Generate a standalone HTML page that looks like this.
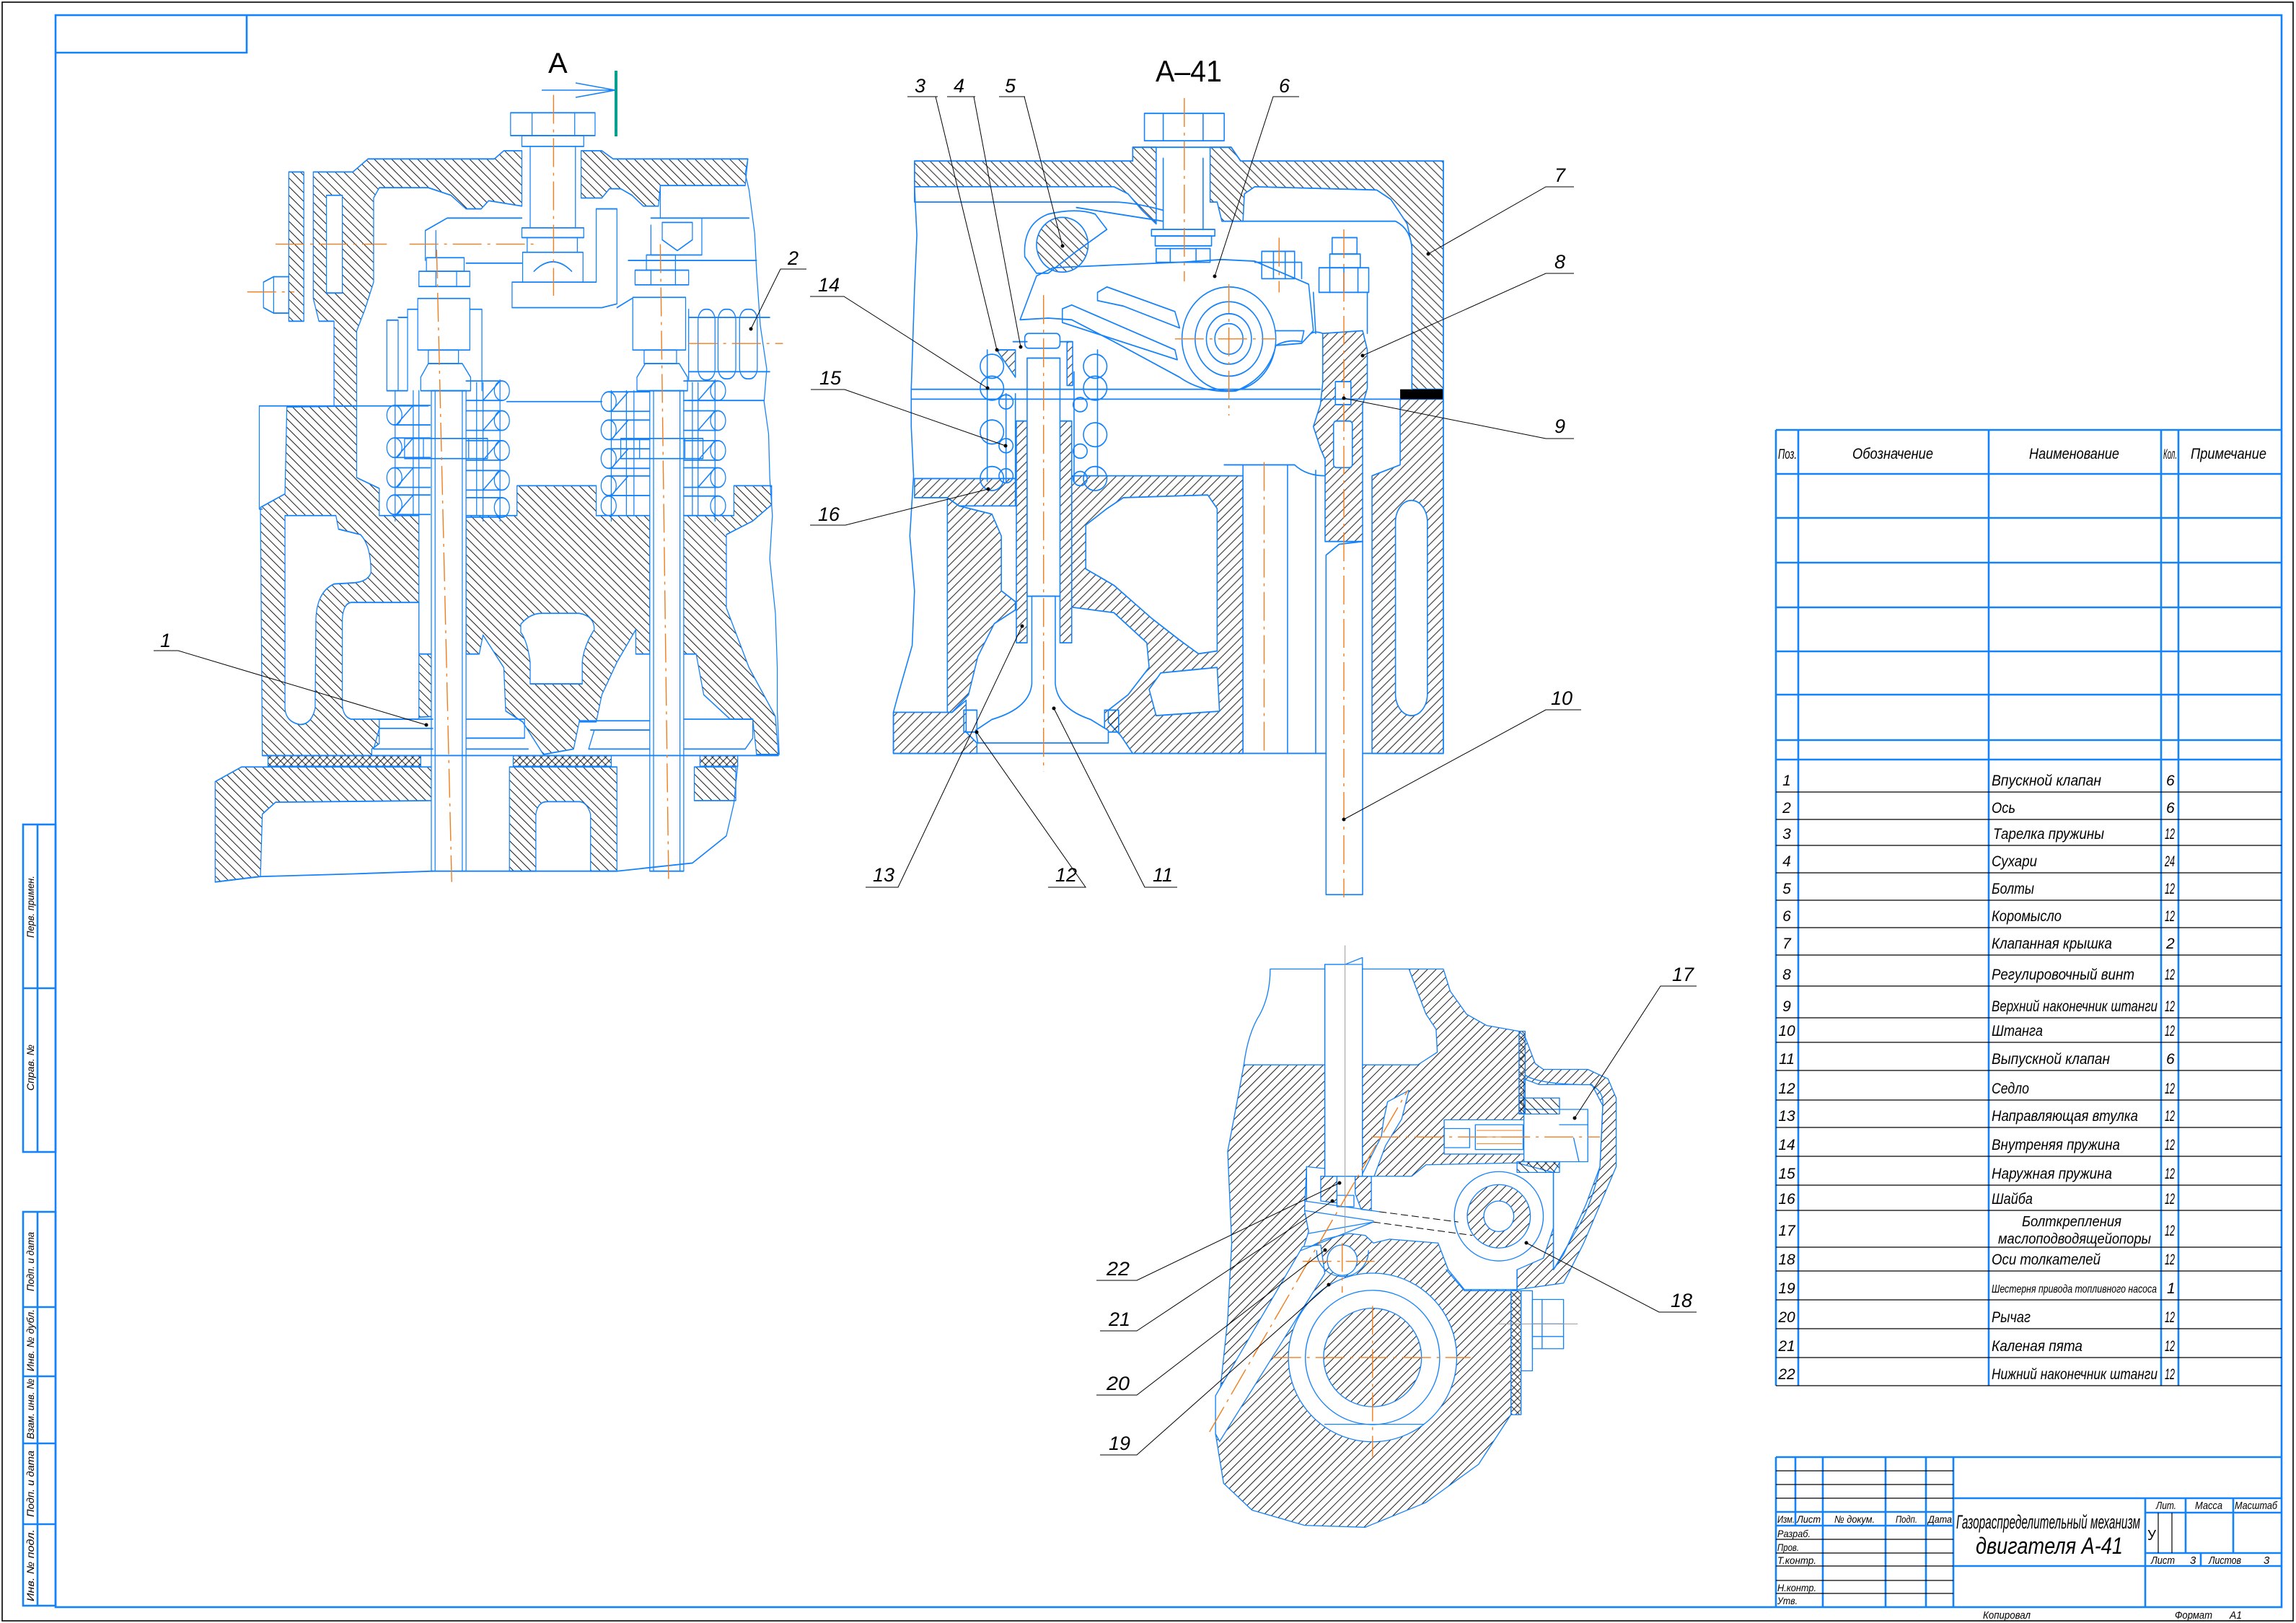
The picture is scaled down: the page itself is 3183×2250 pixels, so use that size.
<!DOCTYPE html>
<html><head><meta charset="utf-8"><style>
html,body{margin:0;padding:0;background:#fff;}
svg{display:block;}
text{font-family:"Liberation Sans","DejaVu Sans",sans-serif;}
.b{stroke:#1482fa;stroke-width:2.4;vector-effect:non-scaling-stroke;stroke-linejoin:round;stroke-linecap:round}
.bt{stroke:#1482fa;stroke-width:2.6;fill:none}
.k{stroke:#000;stroke-width:1;fill:none;vector-effect:non-scaling-stroke}
.o{stroke:#f07d1e;stroke-width:1.4;fill:none;stroke-dasharray:40 8 4 8;vector-effect:non-scaling-stroke}
.i{font-style:italic;fill:#000}
</style></head><body>
<svg width="3183" height="2250" viewBox="0 0 3183 2250" xmlns="http://www.w3.org/2000/svg">
<defs>
<pattern id="h1" patternUnits="userSpaceOnUse" width="8.5" height="8.5" patternTransform="scale(1.912,1.3288) rotate(-45)"><path d="M4.25,-1V10" stroke="#1a1a1a" stroke-width="1"/></pattern>
<pattern id="x1" patternUnits="userSpaceOnUse" width="7" height="7" patternTransform="scale(1.912,1.3288) rotate(45)"><path d="M3.5,-1V8M-1,3.5H8" stroke="#1a1a1a" stroke-width="1"/></pattern>
<pattern id="h2b" patternUnits="userSpaceOnUse" width="8.5" height="8.5" patternTransform="scale(1.5373,1.3175) rotate(-45)"><path d="M4.25,-1V10" stroke="#1a1a1a" stroke-width="1"/></pattern>
<pattern id="h2f" patternUnits="userSpaceOnUse" width="8.5" height="8.5" patternTransform="scale(1.5373,1.3175) rotate(45)"><path d="M4.25,-1V10" stroke="#1a1a1a" stroke-width="1"/></pattern>
<pattern id="h3" patternUnits="userSpaceOnUse" width="8.5" height="8.5" patternTransform="scale(1.7825,1.8904) rotate(45)"><path d="M4.25,-1V10" stroke="#1a1a1a" stroke-width="1"/></pattern>
<pattern id="h3b" patternUnits="userSpaceOnUse" width="8.5" height="8.5" patternTransform="scale(1.7825,1.8904) rotate(-45)"><path d="M4.25,-1V10" stroke="#1a1a1a" stroke-width="1"/></pattern>
<pattern id="x3" patternUnits="userSpaceOnUse" width="7" height="7" patternTransform="scale(1.7825,1.8904) rotate(45)"><path d="M3.5,-1V8M-1,3.5H8" stroke="#1a1a1a" stroke-width="1"/></pattern>
</defs>
<rect x="0" y="0" width="3183" height="2250" fill="#fff"/>

<!-- outer borders -->
<rect x="3" y="3" width="3176" height="2244" fill="none" stroke="#000" stroke-width="1.6"/>
<rect x="77" y="21" width="3086" height="2207" class="bt"/>
<path class="bt" d="M77,73H342V21"/>

<!-- left strips -->
<g class="bt">
<rect x="32" y="1143" width="45" height="454"/><path d="M52,1143V1597M32,1370H77"/>
<rect x="32" y="1680" width="45" height="546"/><path d="M52,1680V2226M32,1812H77M32,1908H77M32,2001H77M32,2113H77"/>
</g>
<g class="i" font-size="14" text-anchor="middle">
<text transform="translate(47,1257) rotate(-90)" textLength="86" lengthAdjust="spacingAndGlyphs">Перв. примен.</text>
<text transform="translate(47,1480) rotate(-90)" textLength="64" lengthAdjust="spacingAndGlyphs">Справ. №</text>
<text transform="translate(47,1749) rotate(-90)" textLength="82" lengthAdjust="spacingAndGlyphs">Подп. и дата</text>
<text transform="translate(47,1858) rotate(-90)" textLength="86" lengthAdjust="spacingAndGlyphs">Инв. № дубл.</text>
<text transform="translate(47,1953) rotate(-90)" textLength="84" lengthAdjust="spacingAndGlyphs">Взам. инв. №</text>
<text transform="translate(47,2057) rotate(-90)" textLength="92" lengthAdjust="spacingAndGlyphs">Подп. и дата</text>
<text transform="translate(47,2170) rotate(-90)" textLength="100" lengthAdjust="spacingAndGlyphs">Инв. № подл.</text>
</g>

<!-- ================= DRAWING 1 ================= -->
<g transform="translate(280,60) scale(0.523,0.7526)">
 <g class="b" fill="url(#h1)">
  <rect x="230" y="237" width="40" height="275"/>
  <polygon points="295,237 400,237 440,213 775,213 800,198 848,198 848,300 760,290 740,305 700,305 660,280 600,266 470,266 455,285 455,440 432,490 410,530 410,668 350,668 350,512 310,512 295,470"/>
  <polygon points="1005,198 1060,198 1090,213 1447,213 1440,262 1215,262 1210,300 1170,300 1140,280 1110,268 1080,268 1060,285 1005,285"/>
  <polygon points="155,855 220,830 225,670 410,668 410,800 470,820 470,870 575,870 575,1125 612,1125 612,1240 470,1245 470,1290 450,1300 450,1312 160,1312"/>
  <polygon points="700,870 835,870 835,815 1045,815 1045,870 1187,870 1187,1125 1150,1125 1150,1080 1100,1140 1060,1200 1045,1250 1000,1250 985,1300 905,1310 850,1250 805,1230 800,1150 745,1090 735,1125 700,1125"/>
  <polygon points="1270,870 1410,870 1410,815 1510,815 1510,850 1460,880 1390,905 1390,1040 1450,1150 1520,1240 1528,1310 1470,1310 1460,1245 1400,1245 1330,1200 1310,1125 1270,1125"/>
  <polygon points="35,1360 105,1333 612,1333 612,1395 195,1398 160,1420 155,1535 35,1545"/>
  <path d="M815,1333H1100V1525H1030V1420Q1020,1397 1000,1397H915Q890,1397 885,1420V1525H815Z"/>
  <rect x="1305" y="1333" width="110" height="62"/>
 </g>
 <g class="b" fill="url(#x1)">
  <rect x="175" y="1312" width="405" height="20"/>
  <rect x="825" y="1312" width="260" height="20"/>
  <rect x="1320" y="1312" width="100" height="20"/>
 </g>
 <g class="b" fill="#fff">
  <path d="M220,870H355L362,895L420,905Q448,925 448,975Q440,992 400,994L350,996Q305,1010 302,1060L300,1225Q290,1255 260,1255Q222,1250 220,1225Z"/>
  <path d="M395,1030H575V1245H395Q372,1240 372,1215V1060Q375,1032 395,1030Z"/>
  <path d="M845,1070Q870,1050 900,1050H1000Q1040,1055 1040,1080Q1012,1110 1008,1140V1180H870V1140Q862,1100 845,1085Z"/>
  <rect x="330" y="280" width="42" height="180"/>
  <rect x="608" y="640" width="92" height="885"/>
  <rect x="1187" y="640" width="90" height="885"/>
 </g>
 <g class="b" fill="none">
  <rect x="818" y="128" width="224" height="42"/><path d="M875,128V170M988,128V170"/>
  <rect x="848" y="170" width="164" height="20"/>
  <path d="M870,190V340M990,190V340"/>
  <path d="M848,340H1012V358H848Z M862,358H995V385H862Z M850,385H1010V440H850Z M880,420Q930,385 980,420"/>
  <path d="M822,487V440H850 M1010,440H1045V305H1100V480L1060,487H822"/>
  <path d="M592,400V345L650,322H848 M620,345V395 M700,405H848"/>
  <polyline points="1447,213 1440,240 1450,270 1465,350 1470,420 1480,520 1497,600 1490,660 1502,720 1505,800 1512,870 1505,950 1520,1050 1525,1150 1525,1230 1530,1310"/>
  <path d="M152,668H600 M808,660H1060 M1290,658H1490 M152,668V858H160"/>
  <polyline points="35,1545 150,1535 400,1530 612,1525"/>
  <polyline points="700,1525 1100,1525 1300,1510 1390,1460 1410,1400 1420,1330"/>
  <path d="M160,1312H1528"/>
  <path d="M618,640V1525M690,640V1525M1197,640V1525M1267,640V1525"/>
  <path d="M465,1245H612 M470,1262H612 M455,1300H612 M455,1300L470,1262 M700,1245H855V1280H700 M700,1300H865"/>
  <path d="M1000,1248H1187 M1030,1265H1187 M1025,1300H1187 M1025,1300L1040,1265 M1277,1245H1460V1280L1440,1300H1277"/>
  <rect x="572" y="470" width="138" height="95"/>
  <rect x="575" y="420" width="135" height="28"/><path d="M620,420V448M675,420V448"/>
  <rect x="595" y="395" width="100" height="25"/>
  <rect x="600" y="565" width="80" height="25"/>
  <path d="M580,640V615L600,590H690L712,615V640H580"/>
  <rect x="1142" y="468" width="140" height="97"/>
  <rect x="1148" y="418" width="142" height="27"/><path d="M1190,418V445M1255,418V445"/>
  <rect x="1178" y="390" width="77" height="28"/>
  <rect x="1172" y="565" width="86" height="25"/>
  <path d="M1153,640V615L1175,590H1265L1287,615V640H1153"/>
  <rect x="537" y="728" width="220" height="37"/><path d="M587,728V765M707,728V765"/>
  <rect x="1110" y="728" width="218" height="37"/><path d="M1160,728V765M1280,728V765"/>
  <path d="M490,510H520V640H490Z M520,505H545V640H520 M545,490H572 M710,490H742V640 M545,490V640"/>
  <path d="M1215,262V322 M1190,322H1450 M1190,335V390H1325V322 M1130,400H1470 M1100,487L1140,470"/>
  <polygon points="1220,330 1300,330 1300,362 1260,382 1220,362"/>
  <rect x="1315" y="490" width="45" height="130" rx="20"/>
  <rect x="1368" y="490" width="47" height="128" rx="20"/>
  <rect x="1425" y="490" width="47" height="128" rx="20"/>
  <path d="M1290,505H1505 M1290,605H1505 M1290,490V620"/>
  <polygon points="163,440 190,430 230,430 230,497 190,497 163,487"/><path d="M190,430V497"/>
  <!-- springs -->
  <ellipse cx="510" cy="685" rx="20" ry="18"/><ellipse cx="510" cy="745" rx="20" ry="18"/><ellipse cx="510" cy="800" rx="20" ry="18"/><ellipse cx="510" cy="850" rx="20" ry="18"/>
  <path d="M510,667H605M510,703H605M510,727H605M510,763H605M510,782H605M510,818H605M510,832H605M510,868H605 M515,703L560,667M515,763L560,727M515,818L560,782M515,868L560,832 M512,640V880M560,640V870M575,640V870"/>
  <ellipse cx="795" cy="640" rx="20" ry="18"/><ellipse cx="795" cy="695" rx="20" ry="18"/><ellipse cx="795" cy="750" rx="20" ry="18"/><ellipse cx="795" cy="805" rx="20" ry="18"/><ellipse cx="795" cy="855" rx="20" ry="18"/>
  <path d="M700,622H795M700,658H795M700,677H795M700,713H795M700,732H795M700,768H795M700,787H795M700,823H795M700,837H795M700,873H795 M745,658L790,622M745,713L790,677M745,768L790,732M745,823L790,787 M728,625V870M745,625V880M790,620V880"/>
  <ellipse cx="1078" cy="660" rx="20" ry="18"/><ellipse cx="1078" cy="712" rx="20" ry="18"/><ellipse cx="1078" cy="765" rx="20" ry="18"/><ellipse cx="1078" cy="815" rx="20" ry="18"/><ellipse cx="1078" cy="852" rx="20" ry="18"/>
  <path d="M1078,642H1187M1078,678H1187M1078,694H1187M1078,730H1187M1078,747H1187M1078,783H1187M1078,797H1187M1078,833H1187 M1085,678L1130,642M1085,730L1130,694M1085,783L1130,747M1085,833L1130,797 M1085,640V880M1125,640V870M1145,640V870"/>
  <ellipse cx="1368" cy="640" rx="20" ry="18"/><ellipse cx="1368" cy="695" rx="20" ry="18"/><ellipse cx="1368" cy="750" rx="20" ry="18"/><ellipse cx="1368" cy="800" rx="20" ry="18"/><ellipse cx="1368" cy="852" rx="20" ry="18"/>
  <path d="M1277,622H1368M1277,658H1368M1277,677H1368M1277,713H1368M1277,732H1368M1277,768H1368M1277,782H1368M1277,818H1368M1277,834H1368M1277,870H1368 M1315,658L1360,622M1315,713L1360,677M1315,768L1360,732M1315,818L1360,782 M1300,625V870M1315,625V870M1360,620V880"/>
 </g>
 <path class="o" d="M622,380L662,1545 M1215,370L1237,1545 M932,95V465 M120,458H245 M195,370H490 M550,370H880 M1290,553H1540"/>
</g>

<!-- Section marker A -->
<text x="760" y="101" font-size="40" fill="#000">A</text>
<path d="M751,125H853 M798,115L853,125L798,135" stroke="#1482fa" stroke-width="1.6" fill="none"/>
<path d="M854,98V189" stroke="#00a08e" stroke-width="4"/>

<!-- ================= DRAWING 2 ================= -->
<g transform="translate(1180,60) scale(0.6505,0.759)">
 <g class="b" fill="url(#h2b)">
  <polygon points="135,215 600,215 600,190 650,190 650,330 620,305 590,275 560,262 135,262"/>
  <polygon points="765,190 810,190 830,215 1262,215 1262,632 1195,632 1195,370 1185,330 1150,285 1120,268 860,262 838,275 835,325 790,325 780,290 765,290"/>
  <ellipse cx="450" cy="368" rx="55" ry="50"/>
 </g>
 <g class="b" fill="url(#h2f)">
  <polygon points="135,795 350,795 350,845 230,845 205,830 135,830"/>
  <polygon points="205,830 230,845 300,860 320,900 320,1000 350,1020 350,1035 305,1060 270,1120 250,1190 215,1222 205,1222"/>
  <polygon points="90,1222 215,1222 245,1200 245,1258 268,1278 268,1297 90,1297"/>
  <rect x="352" y="690" width="23" height="405"/>
  <rect x="445" y="690" width="25" height="405"/>
  <polygon points="470,790 835,790 835,1297 600,1297 575,1265 548,1240 548,1218 590,1190 635,1140 630,1095 560,1040 470,1030"/>
  <polygon points="1110,790 1170,770 1170,650 1262,650 1262,1297 1110,1297"/>
  <polygon points="1005,530 1090,525 1100,560 1100,630 1090,660 1090,910 1010,910 1010,760 1000,740 985,700 1000,660 1005,620"/>
  <rect x="540" y="1218" width="30" height="40"/>
  <polygon points="310,560 350,560 350,610"/>
  <rect x="460" y="545" width="12" height="80"/>
 </g>
 <g class="b" fill="#fff">
  <polygon points="500,880 545,850 580,830 760,825 780,850 780,1110 740,1115 700,1090 640,1050 560,990 500,960"/>
  <polygon points="635,1180 660,1150 780,1140 785,1220 650,1228"/>
  <rect x="1160" y="835" width="68" height="393" rx="34" ry="40"/>
  <rect x="1032" y="618" width="33" height="42"/>
  <rect x="1028" y="690" width="40" height="85" rx="6"/>
  <rect x="375" y="575" width="70" height="435"/>
  <path d="M385,1010V1170Q380,1215 300,1235L265,1255L270,1278H548V1255L510,1235Q440,1215 435,1170V1010Z"/>
  <path d="M1012,935L1040,915L1090,910V1555H1012Z"/>
  <rect x="370" y="530" width="75" height="27" rx="8"/>
 </g>
 <rect x="1170" y="632" width="92" height="18" fill="#000"/>
 <g class="b" fill="none">
  <rect x="625" y="128" width="170" height="50"/><path d="M665,128V178M750,128V178"/>
  <path d="M600,190H810 M600,190V215 M810,190L830,215 M665,210V340 M750,210V340"/>
  <rect x="640" y="340" width="135" height="12"/><rect x="648" y="352" width="120" height="18"/>
  <rect x="650" y="375" width="115" height="25"/><path d="M680,375V400M735,375V400"/>
  <path d="M135,215V290 M135,290H560Q600,290 665,305 M480,300L665,325"/>
  <path d="M835,325H1160Q1195,340 1195,380V632"/>
  <path d="M128,632H1000 M128,650H1170"/>
  <polyline points="135,262 140,350 135,450 128,632 128,700 133,790 125,900 135,1000 130,1100 100,1190 90,1222 90,1297"/>
  <path d="M90,1297H1012 M1090,1297H1262 M1262,215V1297"/>
  <path d="M835,770V1297 M930,770V1297 M990,780V1297 M795,770H945Q970,790 1010,790"/>
  <path d="M360,505L395,425L430,410L560,405L700,400L790,395L860,398L975,440L985,525L960,548L905,552Q890,610 820,635Q750,640 700,610L560,545L470,505L420,502Z"/>
  <path d="M525,455L545,445L690,490L700,520L580,480L525,470Z"/>
  <path d="M450,485L470,478L690,560L695,578L450,510Z"/>
  <ellipse cx="805" cy="540" rx="100" ry="95"/>
  <ellipse cx="805" cy="540" rx="72" ry="68"/>
  <ellipse cx="805" cy="540" rx="48" ry="46"/>
  <ellipse cx="805" cy="540" rx="30" ry="28"/>
  <path d="M905,525H965L960,545Q930,540 905,552"/>
  <path d="M370,390Q365,330 420,312Q480,300 520,312L545,340L480,380L420,420L395,420Z"/>
  <rect x="997" y="410" width="106" height="45"/><path d="M1020,410V455M1050,410V455M1080,410V455"/>
  <rect x="1020" y="385" width="65" height="25"/><rect x="1025" y="355" width="53" height="30"/>
  <path d="M985,455L990,530 M1100,455V530 M980,530Q990,525 1005,530"/>
  <rect x="875" y="380" width="70" height="50"/><path d="M900,380V430M925,380V430M860,400H960V430"/>
  <ellipse cx="300" cy="590" rx="25" ry="22"/><ellipse cx="300" cy="630" rx="25" ry="22"/><ellipse cx="300" cy="710" rx="25" ry="22"/><ellipse cx="300" cy="795" rx="25" ry="22"/>
  <ellipse cx="520" cy="590" rx="25" ry="22"/><ellipse cx="520" cy="630" rx="25" ry="22"/><ellipse cx="520" cy="715" rx="25" ry="22"/><ellipse cx="520" cy="795" rx="25" ry="22"/>
  <ellipse cx="330" cy="655" rx="15" ry="13"/><ellipse cx="330" cy="735" rx="15" ry="13"/><ellipse cx="330" cy="790" rx="15" ry="13"/>
  <ellipse cx="488" cy="660" rx="15" ry="13"/><ellipse cx="488" cy="745" rx="15" ry="13"/><ellipse cx="488" cy="795" rx="15" ry="13"/>
  <path d="M290,560V800M330,640V800M350,640V800M475,600V800M525,560V790M345,545H375M445,545H470"/>
  <path d="M240,1218H268V1258H240Z"/>
 </g>
 <path class="o" d="M710,100V435 M410,460V1330 M690,540H905 M805,440V680 M880,765V1300 M1050,340V1560 M912,355V455"/>
</g>
<text x="1602" y="113" font-size="42" fill="#000" textLength="92" lengthAdjust="spacingAndGlyphs">А–41</text>

<!-- ================= DRAWING 3 ================= -->
<g transform="translate(1500,1300) scale(0.561,0.529)">
 <g class="b" fill="url(#h3)">
  <polygon points="400,333 600,333 600,625 693,625 693,333 830,333 878,300 875,240 850,200 808,82 893,82 910,140 950,200 1000,230 1080,245 1095,260 1120,330 1140,345 1250,345 1300,370 1320,420 1320,600 1280,700 1240,800 1190,905 1090,920 1060,925 1060,1250 980,1380 850,1480 700,1545 550,1540 420,1500 350,1430 330,1300 360,1000 370,800 360,560 385,420"/>
 </g>
 <g class="b" fill="#fff">
  <polygon points="555,600 600,605 600,625 815,625 850,595 1075,590 1165,615 1165,760 1140,840 1075,870 1075,922 945,922 905,870 880,800 760,790 720,800 700,780 660,775 600,790 545,820 560,770 550,715"/>
  <polygon points="1092,370 1130,385 1260,385 1287,440 1280,600 1245,700 1190,830 1165,870 1165,615 1180,590 1180,450 1092,450"/>
  <polygon points="755,430 808,400 790,475 750,545 722,625 690,625 740,520 745,480"/>
  <polygon points="545,810 590,805 600,880 340,1320 330,1300 330,1200"/>
  <ellipse cx="718" cy="1100" rx="208" ry="221"/>
  <rect x="600" y="70" width="93" height="555"/>
  <rect x="895" y="477" width="197" height="90"/>
  <rect x="1092" y="450" width="158" height="137"/>
 </g>
 <g class="b" fill="url(#h3)">
  <ellipse cx="718" cy="1100" rx="121" ry="129"/>
  <ellipse cx="1030" cy="730" rx="78" ry="83"/>
  <polygon points="590,625 630,625 630,695 590,690"/>
  <polygon points="675,625 715,625 715,715 690,712 675,670"/>
 </g>
 <g class="b" fill="url(#h3b)">
  <rect x="1080" y="420" width="100" height="42"/>
  <rect x="1075" y="587" width="105" height="28"/>
 </g>
 <g class="b" fill="url(#x3)">
  <rect x="1060" y="925" width="25" height="325"/>
  <rect x="1080" y="245" width="15" height="215"/>
 </g>
 <g class="b" fill="#fff">
  <ellipse cx="1030" cy="730" rx="37" ry="40"/>
  <ellipse cx="643" cy="845" rx="37" ry="40"/>
  <rect x="630" y="675" width="42" height="30"/>
 </g>
 <g class="b" fill="none">
  <path d="M600,625V70H650L693,52V625"/>
  <path d="M465,82H600 M693,82H808 M465,82Q465,150 440,200Q410,250 400,333 M400,333H600 M693,333H830"/>
  <ellipse cx="718" cy="1100" rx="166" ry="176"/>
  <path d="M600,1275H845"/>
  <ellipse cx="1030" cy="730" rx="110" ry="117"/>
  <path d="M580,820A64,68 0 1,0 708,820"/>
  <path d="M1095,360Q1130,385 1255,385Q1290,400 1287,440L1280,600Q1260,700 1220,770L1165,870 M1165,615V870 M1075,870V922 M945,925H1060 M900,870L945,925"/>
  <path d="M550,690L735,718 M550,715L720,742 M560,775L720,745 M540,820L720,745 M555,600V690"/>
  <rect x="972" y="490" width="118" height="65"/><rect x="895" y="500" width="63" height="50"/>
  <path d="M1180,490H1250 M1215,525L1228,587"/>
  <rect x="1113" y="948" width="77" height="129"/><path d="M1137,948V1077M1113,1012H1190M1113,1045H1190"/>
  <rect x="1085" y="925" width="28" height="210"/>
 </g>
 <path class="k" d="M735,718L930,745 M720,745L965,780" stroke-dasharray="10 5"/>
 <path d="M650,20V780" stroke="#999" stroke-width="1" vector-effect="non-scaling-stroke"/>
 <path d="M975,505H1088M975,522H1088M975,540H1088" stroke="#f07d1e" stroke-width="1" vector-effect="non-scaling-stroke"/>
 <path class="o" d="M470,1100H960 M718,965V1360 M545,848H730 M643,800V930 M315,1295L805,400 M715,522H1280"/>
 <path d="M1030,1012H1225" stroke="#999" stroke-width="1" vector-effect="non-scaling-stroke"/>
</g>

<!-- leaders & labels -->
<g class="k" stroke-width="1.1">
 <path d="M213,902H247L591,1005"/>
 <path d="M1118,373H1082L1041,456"/>
 <path d="M1258,134H1300M1297,134L1382,485"/>
 <path d="M1313,134H1352M1350,134L1415,481"/>
 <path d="M1385,134H1421M1420,134L1473,341"/>
 <path d="M1801,134H1765L1684,383"/>
 <path d="M2182,259H2143L1980,352"/>
 <path d="M2182,379H2143L1889,493"/>
 <path d="M2182,608H2143L1863,552"/>
 <path d="M2192,984H2143L1863,1136"/>
 <path d="M1632,1230H1587L1461,982"/>
 <path d="M1453,1230H1505L1354,1015"/>
 <path d="M1200,1230H1245L1417,868"/>
 <path d="M1123,411H1170L1369,538"/>
 <path d="M1124,540H1171L1394,618"/>
 <path d="M1123,728H1172L1370,678"/>
 <path d="M2352,1367H2302L2183,1550"/>
 <path d="M2352,1819H2300L2116,1723"/>
 <path d="M1520,1775H1576L1857,1640"/>
 <path d="M1525,1845H1576L1847,1665"/>
 <path d="M1520,1934H1576L1837,1733"/>
 <path d="M1525,2017H1576L1842,1781"/>
</g>
<g fill="#000">
 <circle cx="591" cy="1005" r="2.5"/><circle cx="1041" cy="456" r="2.5"/><circle cx="1382" cy="485" r="2.5"/><circle cx="1415" cy="481" r="2.5"/><circle cx="1473" cy="341" r="2.5"/><circle cx="1684" cy="383" r="2.5"/><circle cx="1980" cy="352" r="2.5"/><circle cx="1889" cy="493" r="2.5"/><circle cx="1863" cy="552" r="2.5"/><circle cx="1863" cy="1136" r="2.5"/><circle cx="1461" cy="982" r="2.5"/><circle cx="1354" cy="1015" r="2.5"/><circle cx="1417" cy="868" r="2.5"/><circle cx="1369" cy="538" r="2.5"/><circle cx="1394" cy="618" r="2.5"/><circle cx="1370" cy="678" r="2.5"/><circle cx="2183" cy="1550" r="2.5"/><circle cx="2116" cy="1723" r="2.5"/><circle cx="1857" cy="1640" r="2.5"/><circle cx="1847" cy="1665" r="2.5"/><circle cx="1837" cy="1733" r="2.5"/><circle cx="1842" cy="1781" r="2.5"/>
</g>
<g class="i" font-size="27">
 <text x="222" y="897">1</text>
 <text x="1092" y="367">2</text>
 <text x="1268" y="128">3</text>
 <text x="1322" y="128">4</text>
 <text x="1393" y="128">5</text>
 <text x="1773" y="128">6</text>
 <text x="2155" y="252">7</text>
 <text x="2155" y="372">8</text>
 <text x="2155" y="600">9</text>
 <text x="2150" y="977" textLength="30" lengthAdjust="spacingAndGlyphs">10</text>
 <text x="1598" y="1222" textLength="28" lengthAdjust="spacingAndGlyphs">11</text>
 <text x="1463" y="1222" textLength="30" lengthAdjust="spacingAndGlyphs">12</text>
 <text x="1210" y="1222" textLength="30" lengthAdjust="spacingAndGlyphs">13</text>
 <text x="1134" y="404" textLength="30" lengthAdjust="spacingAndGlyphs">14</text>
 <text x="1136" y="533" textLength="30" lengthAdjust="spacingAndGlyphs">15</text>
 <text x="1134" y="722" textLength="30" lengthAdjust="spacingAndGlyphs">16</text>
 <text x="2318" y="1360" textLength="30" lengthAdjust="spacingAndGlyphs">17</text>
 <text x="2316" y="1812" textLength="30" lengthAdjust="spacingAndGlyphs">18</text>
 <text x="1534" y="1768" textLength="32" lengthAdjust="spacingAndGlyphs">22</text>
 <text x="1537" y="1838" textLength="30" lengthAdjust="spacingAndGlyphs">21</text>
 <text x="1534" y="1927" textLength="32" lengthAdjust="spacingAndGlyphs">20</text>
 <text x="1537" y="2010" textLength="30" lengthAdjust="spacingAndGlyphs">19</text>
</g>

<!-- ================= TABLE ================= -->
<g class="bt">
 <path d="M2462,596V1921M2493,596V1921M2757,596V1921M2996,596V1921M3020,596V1921"/>
 <path d="M2462,596H3163M2462,657H3163M2462,718H3163M2462,780H3163M2462,842H3163M2462,903H3163M2462,963H3163M2462,1026H3163M2462,1053H3163"/>
</g>
<path stroke="#000" stroke-width="1.3" fill="none" d="M2462,1098H3163M2462,1136H3163M2462,1172H3163M2462,1210H3163M2462,1248H3163M2462,1286H3163M2462,1324H3163M2462,1367H3163M2462,1411H3163M2462,1445H3163M2462,1484H3163M2462,1525H3163M2462,1563H3163M2462,1603H3163M2462,1643H3163M2462,1678H3163M2462,1729H3163M2462,1762H3163M2462,1802H3163M2462,1842H3163M2462,1882H3163M2462,1921H3163"/>
<g class="i" font-size="21">
 <text x="2465" y="636" font-size="19" textLength="26" lengthAdjust="spacingAndGlyphs">Поз.</text>
 <text x="2568" y="636" textLength="112" lengthAdjust="spacingAndGlyphs">Обозначение</text>
 <text x="2813" y="636" textLength="125" lengthAdjust="spacingAndGlyphs">Наименование</text>
 <text x="2999" y="636" font-size="19" textLength="19" lengthAdjust="spacingAndGlyphs">Кол.</text>
 <text x="3037" y="636" textLength="105" lengthAdjust="spacingAndGlyphs">Примечание</text>
</g>
<g class="i" font-size="21" text-anchor="middle">
 <text x="2477" y="1089">1</text><text x="2477" y="1127">2</text><text x="2477" y="1163">3</text><text x="2477" y="1201">4</text><text x="2477" y="1239">5</text><text x="2477" y="1277">6</text><text x="2477" y="1315">7</text><text x="2477" y="1358">8</text><text x="2477" y="1402">9</text><text x="2477" y="1436">10</text><text x="2477" y="1475">11</text><text x="2477" y="1516">12</text><text x="2477" y="1554">13</text><text x="2477" y="1594">14</text><text x="2477" y="1634">15</text><text x="2477" y="1669">16</text><text x="2477" y="1713">17</text><text x="2477" y="1753">18</text><text x="2477" y="1793">19</text><text x="2477" y="1833">20</text><text x="2477" y="1873">21</text><text x="2477" y="1912">22</text>
</g>
<g class="i" font-size="21">
 <text x="3003" y="1089">6</text><text x="3003" y="1127">6</text>
 <text x="3001" y="1163" textLength="14" lengthAdjust="spacingAndGlyphs">12</text>
 <text x="3001" y="1201" textLength="14" lengthAdjust="spacingAndGlyphs">24</text>
 <text x="3001" y="1239" textLength="14" lengthAdjust="spacingAndGlyphs">12</text>
 <text x="3001" y="1277" textLength="14" lengthAdjust="spacingAndGlyphs">12</text>
 <text x="3003" y="1315">2</text>
 <text x="3001" y="1358" textLength="14" lengthAdjust="spacingAndGlyphs">12</text>
 <text x="3001" y="1402" textLength="14" lengthAdjust="spacingAndGlyphs">12</text>
 <text x="3001" y="1436" textLength="14" lengthAdjust="spacingAndGlyphs">12</text>
 <text x="3003" y="1475">6</text>
 <text x="3001" y="1516" textLength="14" lengthAdjust="spacingAndGlyphs">12</text>
 <text x="3001" y="1554" textLength="14" lengthAdjust="spacingAndGlyphs">12</text>
 <text x="3001" y="1594" textLength="14" lengthAdjust="spacingAndGlyphs">12</text>
 <text x="3001" y="1634" textLength="14" lengthAdjust="spacingAndGlyphs">12</text>
 <text x="3001" y="1669" textLength="14" lengthAdjust="spacingAndGlyphs">12</text>
 <text x="3001" y="1713" textLength="14" lengthAdjust="spacingAndGlyphs">12</text>
 <text x="3001" y="1753" textLength="14" lengthAdjust="spacingAndGlyphs">12</text>
 <text x="3004" y="1793">1</text>
 <text x="3001" y="1833" textLength="14" lengthAdjust="spacingAndGlyphs">12</text>
 <text x="3001" y="1873" textLength="14" lengthAdjust="spacingAndGlyphs">12</text>
 <text x="3001" y="1912" textLength="14" lengthAdjust="spacingAndGlyphs">12</text>
</g>
<g class="i" font-size="21">
 <text x="2761" y="1089" textLength="152" lengthAdjust="spacingAndGlyphs">Впускной клапан</text>
 <text x="2761" y="1127" textLength="33" lengthAdjust="spacingAndGlyphs">Ось</text>
 <text x="2763" y="1163" textLength="154" lengthAdjust="spacingAndGlyphs">Тарелка пружины</text>
 <text x="2761" y="1201" textLength="63" lengthAdjust="spacingAndGlyphs">Сухари</text>
 <text x="2761" y="1239" textLength="59" lengthAdjust="spacingAndGlyphs">Болты</text>
 <text x="2761" y="1277" textLength="97" lengthAdjust="spacingAndGlyphs">Коромысло</text>
 <text x="2761" y="1315" textLength="167" lengthAdjust="spacingAndGlyphs">Клапанная крышка</text>
 <text x="2761" y="1358" textLength="198" lengthAdjust="spacingAndGlyphs">Регулировочный винт</text>
 <text x="2761" y="1402" textLength="230" lengthAdjust="spacingAndGlyphs">Верхний наконечник штанги</text>
 <text x="2761" y="1436" textLength="71" lengthAdjust="spacingAndGlyphs">Штанга</text>
 <text x="2761" y="1475" textLength="164" lengthAdjust="spacingAndGlyphs">Выпускной клапан</text>
 <text x="2761" y="1516" textLength="52" lengthAdjust="spacingAndGlyphs">Седло</text>
 <text x="2761" y="1554" textLength="203" lengthAdjust="spacingAndGlyphs">Направляющая втулка</text>
 <text x="2761" y="1594" textLength="178" lengthAdjust="spacingAndGlyphs">Внутреняя пружина</text>
 <text x="2761" y="1634" textLength="167" lengthAdjust="spacingAndGlyphs">Наружная пружина</text>
 <text x="2761" y="1669" textLength="57" lengthAdjust="spacingAndGlyphs">Шайба</text>
 <text x="2803" y="1700" font-size="20" textLength="138" lengthAdjust="spacingAndGlyphs">Болткрепления</text>
 <text x="2770" y="1724" font-size="20" textLength="212" lengthAdjust="spacingAndGlyphs">маслоподводящейопоры</text>
 <text x="2761" y="1753" textLength="151" lengthAdjust="spacingAndGlyphs">Оси толкателей</text>
 <text x="2761" y="1792" font-size="16" textLength="229" lengthAdjust="spacingAndGlyphs">Шестерня привода топливного насоса</text>
 <text x="2761" y="1833" textLength="54" lengthAdjust="spacingAndGlyphs">Рычаг</text>
 <text x="2761" y="1873" textLength="126" lengthAdjust="spacingAndGlyphs">Каленая пята</text>
 <text x="2761" y="1912" textLength="230" lengthAdjust="spacingAndGlyphs">Нижний наконечник штанги</text>
</g>

<!-- ================= TITLE BLOCK ================= -->
<g class="bt">
 <path d="M2462,2020H3163 M2462,2096H2708 M2462,2115H2708 M2708,2077H3163 M2974,2097H3163 M2974,2153H3163 M2708,2171H3163"/>
 <path d="M2462,2020V2228 M2489,2020V2115 M2527,2020V2228 M2614,2020V2228 M2670,2020V2228 M2708,2020V2228 M2974,2077V2228 M3030,2077V2153 M3096,2077V2153 M3051,2153V2171"/>
</g>
<path stroke="#000" stroke-width="1.2" fill="none" d="M2462,2039H2708M2462,2058H2708M2462,2077H2708M2462,2134H2708M2462,2153H2708M2462,2171H2708M2462,2191H2708M2462,2209H2708 M2992,2097V2153M3011,2097V2153"/>
<g class="i" font-size="14">
 <text x="2464" y="2111" textLength="24" lengthAdjust="spacingAndGlyphs">Изм.</text>
 <text x="2491" y="2111" textLength="33" lengthAdjust="spacingAndGlyphs">Лист</text>
 <text x="2543" y="2111" textLength="56" lengthAdjust="spacingAndGlyphs">№ докум.</text>
 <text x="2628" y="2111" textLength="30" lengthAdjust="spacingAndGlyphs">Подп.</text>
 <text x="2673" y="2111" textLength="33" lengthAdjust="spacingAndGlyphs">Дата</text>
 <text x="2464" y="2131" textLength="46" lengthAdjust="spacingAndGlyphs">Разраб.</text>
 <text x="2464" y="2150" textLength="30" lengthAdjust="spacingAndGlyphs">Пров.</text>
 <text x="2464" y="2168" textLength="54" lengthAdjust="spacingAndGlyphs">Т.контр.</text>
 <text x="2464" y="2206" textLength="54" lengthAdjust="spacingAndGlyphs">Н.контр.</text>
 <text x="2464" y="2224" textLength="28" lengthAdjust="spacingAndGlyphs">Утв.</text>
 <text x="2989" y="2092" font-size="15" textLength="28" lengthAdjust="spacingAndGlyphs">Лит.</text>
 <text x="3043" y="2092" font-size="15" textLength="38" lengthAdjust="spacingAndGlyphs">Масса</text>
 <text x="3098" y="2092" font-size="15" textLength="59" lengthAdjust="spacingAndGlyphs">Масштаб</text>
 <text x="2982" y="2168" font-size="15" textLength="33" lengthAdjust="spacingAndGlyphs">Лист</text>
 <text x="3036" y="2168" font-size="15">3</text>
 <text x="3062" y="2168" font-size="15" textLength="45" lengthAdjust="spacingAndGlyphs">Листов</text>
 <text x="3138" y="2168" font-size="15">3</text>
 <text x="2749" y="2244" font-size="15" textLength="66" lengthAdjust="spacingAndGlyphs">Копировал</text>
 <text x="3015" y="2244" font-size="15" textLength="52" lengthAdjust="spacingAndGlyphs">Формат</text>
 <text x="3091" y="2244" font-size="15" textLength="17" lengthAdjust="spacingAndGlyphs">А1</text>
</g>
<text x="2977" y="2135" font-size="20" fill="#000" textLength="12" lengthAdjust="spacingAndGlyphs">У</text>
<text class="i" x="2712" y="2119" font-size="27" textLength="255" lengthAdjust="spacingAndGlyphs">Газораспределительный механизм</text>
<text class="i" x="2739" y="2154" font-size="32" textLength="204" lengthAdjust="spacingAndGlyphs">двигателя А-41</text>
</svg>
</body></html>
